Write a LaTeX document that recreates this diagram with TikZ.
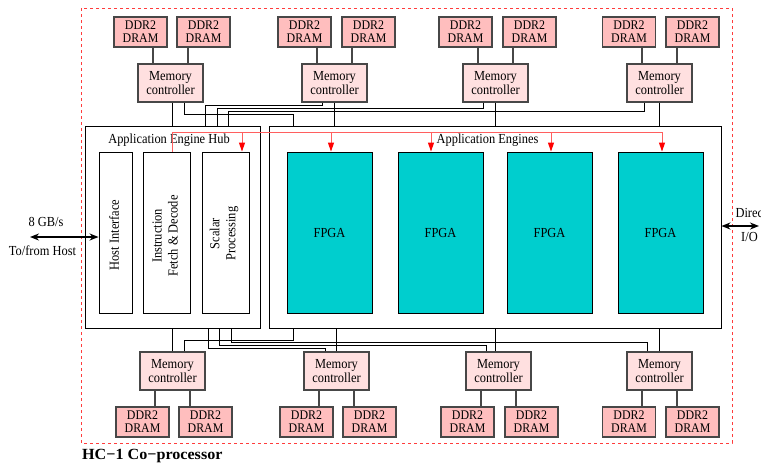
\documentclass[tikz,border=0pt]{standalone}
\usepackage{fontspec}
\setmainfont{Liberation Serif}[FakeStretch=0.9]
\newfontfamily\titlefont{Liberation Serif}[FakeStretch=1.04]
\usetikzlibrary{arrows.meta}
\definecolor{dramfill}{RGB}{255,190,190}
\definecolor{mcfill}{RGB}{255,224,224}
\definecolor{fpgafill}{RGB}{0,206,206}
\definecolor{framered}{RGB}{255,60,60}
\definecolor{wirered}{RGB}{255,95,95}
\begin{document}
\begin{tikzpicture}[x=1pt,y=-1pt,
  font=\fontsize{13.8}{13.5}\selectfont,
  dramS/.style={draw=black!72, line width=1.2pt, fill=dramfill, minimum width=53pt,
    minimum height=30pt, inner sep=0pt, align=center, font=\fontsize{13.2}{13}\selectfont},
  mcS/.style={draw=black!72, line width=1.2pt, fill=mcfill, minimum width=65pt,
    minimum height=38pt, inner sep=0pt, align=center, font=\fontsize{13.8}{14}\selectfont},
  bigbox/.style={draw=black, line width=0.9pt, inner sep=0pt},
  unit/.style={draw=black, line width=0.9pt, inner sep=0pt, minimum height=161pt},
  fpgaS/.style={draw=black, line width=0.9pt, fill=fpgafill, inner sep=0pt,
    minimum width=85pt, minimum height=161pt},
  wire/.style={black, line width=0.8pt},
  dwire/.style={black!72, line width=1.1pt},
  redw/.style={wirered, line width=1pt},
  redarrow/.style={redw, -{Triangle[length=9pt,width=6pt,fill=red,color=red]}},
  iolink/.style={black, line width=1.6pt, {Stealth[length=9pt,width=7pt]}-{Stealth[length=9pt,width=7pt]}},
  rottext/.style={rotate=90, align=center, font=\fontsize{13.8}{16}\selectfont}
]
\useasboundingbox (0,0) rectangle (761,464);

% outer frame
\draw[framered, line width=0.9pt, dash pattern=on 3pt off 3pt] (81,8) rectangle (732,443);
\node[anchor=base west, inner sep=0pt, font=\titlefont\fontsize{15.5}{15.5}\selectfont\bfseries] (title) at (82,459) {HC−1 Co−processor};

% big boxes
\node[bigbox, minimum width=175pt, minimum height=202pt] (Hub) at (172.5,227) {};
\node[bigbox, minimum width=452pt, minimum height=202pt] (AE) at (495,227) {};
\node (hubl) at (169,140) {Application Engine Hub};
\node (ael) at (487.5,140) {Application Engines};

% hub units
\node[unit, minimum width=33pt] (HI) at (115.5,232.5) {};
\node[unit, minimum width=47pt] (IF) at (166.5,232.5) {};
\node[unit, minimum width=47pt] (SP) at (225.5,232.5) {};
\node[rottext] (hit) at (114,235) {Host Interface};
\node[rottext] (ift) at (165,236) {Instruction\\Fetch \& Decode};
\node[rottext] (spt) at (224,233.5) {Scalar\\Processing};

% FPGAs
\node[fpgaS] (F1) at (329.5,232.5) {FPGA};
\node[fpgaS] (F2) at (440.5,232.5) {FPGA};
\node[fpgaS] (F3) at (549.5,232.5) {FPGA};
\node[fpgaS] (F4) at (660.5,232.5) {FPGA};

% top memory controllers and DRAMs
\node[mcS] (M1) at (170.5,83) {Memory\\controller};
\node[mcS] (M2) at (334.5,83) {Memory\\controller};
\node[mcS] (M3) at (495.5,83) {Memory\\controller};
\node[mcS] (M4) at (659.5,83) {Memory\\controller};
\node[dramS] (D1a) at (140.5,32) {DDR2\\DRAM};
\node[dramS] (D1b) at (203.5,32) {DDR2\\DRAM};
\node[dramS] (D2a) at (304.5,32) {DDR2\\DRAM};
\node[dramS] (D2b) at (368.5,32) {DDR2\\DRAM};
\node[dramS] (D3a) at (465.5,32) {DDR2\\DRAM};
\node[dramS] (D3b) at (529.5,32) {DDR2\\DRAM};
\node[dramS] (D4a) at (629,32) {DDR2\\DRAM};
\node[dramS] (D4b) at (692.5,32) {DDR2\\DRAM};

% bottom memory controllers and DRAMs
\node[mcS] (B1) at (172.5,371) {Memory\\controller};
\node[mcS] (B2) at (336.5,371) {Memory\\controller};
\node[mcS] (B3) at (498.5,371) {Memory\\controller};
\node[mcS] (B4) at (659.5,371) {Memory\\controller};
\node[dramS] (E1a) at (142.5,422) {DDR2\\DRAM};
\node[dramS] (E1b) at (205.5,422) {DDR2\\DRAM};
\node[dramS] (E2a) at (306.5,422) {DDR2\\DRAM};
\node[dramS] (E2b) at (369.5,422) {DDR2\\DRAM};
\node[dramS] (E3a) at (467.5,422) {DDR2\\DRAM};
\node[dramS] (E3b) at (531.5,422) {DDR2\\DRAM};
\node[dramS] (E4a) at (629,422) {DDR2\\DRAM};
\node[dramS] (E4b) at (692.5,422) {DDR2\\DRAM};

% DRAM to controller links
\foreach \m/\a/\b in {M1/D1a/D1b, M2/D2a/D2b, M3/D3a/D3b, M4/D4a/D4b}{
  \draw[dwire] ([xshift=-17.5pt]\m.north) -- ([xshift=-17.5pt]\m.north |- \a.south);
  \draw[dwire] ([xshift=17.5pt]\m.north) -- ([xshift=17.5pt]\m.north |- \b.south);
}
\foreach \m/\a/\b in {B1/E1a/E1b, B2/E2a/E2b, B3/E3a/E3b, B4/E4a/E4b}{
  \draw[dwire] ([xshift=-17.5pt]\m.south) -- ([xshift=-17.5pt]\m.south |- \a.north);
  \draw[dwire] ([xshift=17.5pt]\m.south) -- ([xshift=17.5pt]\m.south |- \b.north);
}

% top controller wiring
\draw[wire] ([xshift=2pt]M1.south) -- ([xshift=2pt]M1.south |- Hub.north);
\draw[wire] ([xshift=13.5pt]M1.south) |- (293,114) -- (293,114 |- AE.north);
\draw[wire] ([xshift=-12.5pt]M2.south) |- (205,105) -- (205,105 |- Hub.north);
\draw[wire] (M2.south) -- (M2.south |- AE.north);
\draw[wire] ([xshift=-12.5pt]M3.south) |- (217,108) -- (217,108 |- Hub.north);
\draw[wire] (M3.south) -- (M3.south |- AE.north);
\draw[wire] ([xshift=-15.5pt]M4.south) |- (228,111.5) -- (228,111.5 |- Hub.north);
\draw[wire] (M4.south) -- (M4.south |- AE.north);

% bottom controller wiring
\draw[wire] (B1.north) -- (B1.north |- Hub.south);
\draw[wire] ([xshift=11.5pt]B1.north) |- (293,340) -- (293,340 |- AE.south);
\draw[wire] ([xshift=-11pt]B2.north) |- (208,348.5) -- (208,348.5 |- Hub.south);
\draw[wire] (B2.north) -- (B2.north |- AE.south);
\draw[wire] ([xshift=-12pt]B3.north) |- (219,345.5) -- (219,345.5 |- Hub.south);
\draw[wire] ([xshift=-3.5pt]B3.north) -- ([xshift=-3.5pt]B3.north |- AE.south);
\draw[wire] ([xshift=-12pt]B4.north) |- (231,342.5) -- (231,342.5 |- Hub.south);
\draw[wire] (B4.north) -- (B4.north |- AE.south);

% red instruction dispatch lines
\draw[redarrow] ([xshift=5.5pt]IF.north) |- (662,132) -- (662,132 |- F4.north);
\draw[redarrow] (242,132) -- (242,132 |- SP.north);
\draw[redarrow] (331,132) -- (331,132 |- F1.north);
\draw[redarrow] (431,132) -- (431,132 |- F2.north);
\draw[redarrow] (551,132) -- (551,132 |- F3.north);

% host and direct I/O links
\coordinate (hostend) at (30,237);
\draw[iolink] (hostend) -- (hostend -| HI.west);
\node (gb) at (46,222) {8 GB/s};
\node (tfh) at (42.5,251) {To/from Host};
\coordinate (ioend) at (759,226);
\draw[iolink] (ioend -| AE.east) -- (ioend);
\node[anchor=west] (dir) at (732,213) {Direct};
\node (io) at (749.5,236.5) {I/O};
\end{tikzpicture}
\end{document}
